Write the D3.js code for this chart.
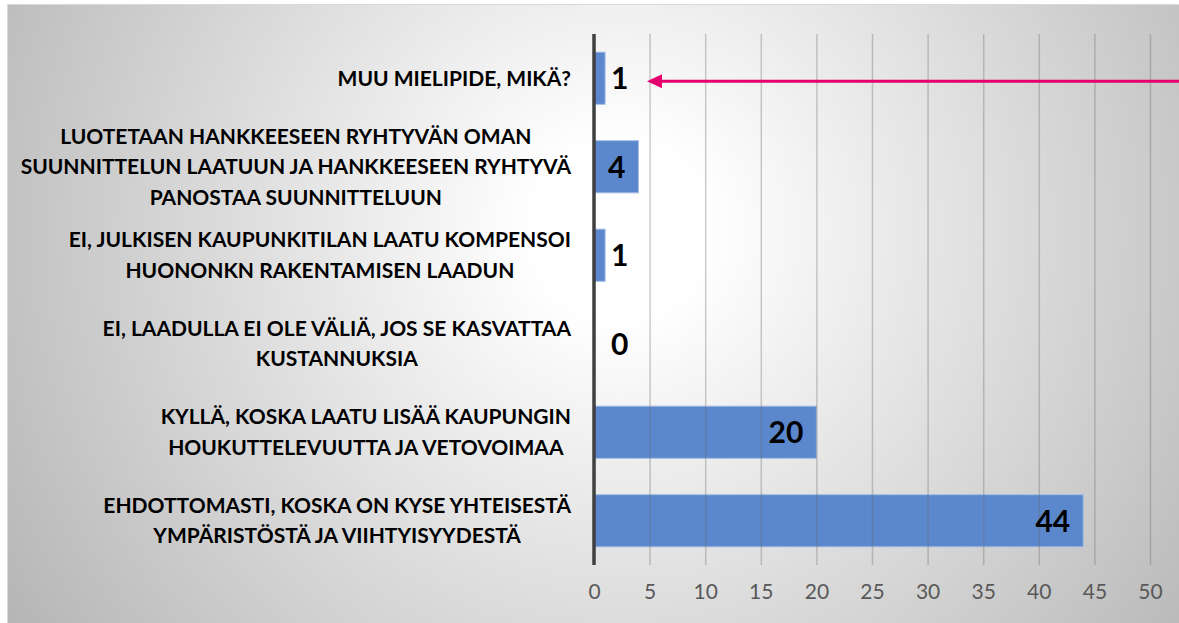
<!DOCTYPE html>
<html>
<head>
<meta charset="utf-8">
<script src="https://cdn.jsdelivr.net/npm/d3@7"></script>
<style>
  body { margin: 0; background: #fff; }
  svg { display: block; }
</style>
</head>
<body>
<div id="chart"></div>
<script>
// answers, top to bottom as shown
const categories = [
    ['MUU MIELIPIDE, MIKÄ?'],
    ['LUOTETAAN HANKKEESEEN RYHTYVÄN OMAN', 'SUUNNITTELUN LAATUUN JA HANKKEESEEN RYHTYVÄ', 'PANOSTAA SUUNNITTELUUN'],
    ['EI, JULKISEN KAUPUNKITILAN LAATU KOMPENSOI', 'HUONONKN RAKENTAMISEN LAADUN'],
    ['EI, LAADULLA EI OLE VÄLIÄ, JOS SE KASVATTAA', 'KUSTANNUKSIA'],
    ['KYLLÄ, KOSKA LAATU LISÄÄ KAUPUNGIN', 'HOUKUTTELEVUUTTA JA VETOVOIMAA'],
    ['EHDOTTOMASTI, KOSKA ON KYSE YHTEISESTÄ', 'YMPÄRISTÖSTÄ JA VIIHTYISYYDESTÄ']
];
const values = [1, 4, 1, 0, 20, 44];
const tickValues = [0, 5, 10, 15, 20, 25, 30, 35, 40, 45, 50];
const highlighted = 0; // the arrow points at this answer

const W = 1179, H = 623;
const PLOT = { LEFT: 594, RIGHT: 1150, TOP: 34, BOTTOM: 565 };
const FONT = "Lato, 'Open Sans', sans-serif";

const svg = d3.select('#chart')
    .append('svg')
    .attr('width', W)
    .attr('height', H);

// soft radial background like the office chart area
const grad = svg.append('defs').append('radialGradient')
    .attr('id', 'bg')
    .attr('gradientUnits', 'userSpaceOnUse')
    .attr('cx', 620).attr('cy', 230).attr('r', 720);
grad.append('stop').attr('offset', 0).attr('stop-color', '#ffffff');
grad.append('stop').attr('offset', 0.12).attr('stop-color', '#ffffff');
grad.append('stop').attr('offset', 1).attr('stop-color', '#b6b6b6');

svg.append('rect').attr('width', W).attr('height', H).attr('fill', '#fff');
svg.append('rect')
    .attr('x', 7.5).attr('y', 4.5)
    .attr('width', W - 7).attr('height', H - 4)
    .attr('fill', 'url(#bg)')
    .attr('stroke', '#d9d9d9');

const x = d3.scaleLinear()
    .domain([0, 50])
    .range([PLOT.LEFT, PLOT.RIGHT]);

const y = d3.scaleBand()
    .domain(d3.range(categories.length))
    .range([PLOT.TOP, PLOT.BOTTOM])
    .paddingInner(0.41)
    .paddingOuter(0.205);

// bars
svg.selectAll('rect.bar')
    .data(values)
    .enter()
    .append('rect')
    .attr('class', 'bar')
    .attr('x', x(0))
    .attr('y', (d, i) => y(i))
    .attr('width', d => x(d) - x(0))
    .attr('height', y.bandwidth())
    .attr('fill', '#5b87cd')
    .attr('stroke', '#a9c0e6')
    .attr('stroke-width', 1);

// vertical gridlines, drawn over the bars
const xAxis = d3.axisBottom(x)
    .tickValues(tickValues)
    .tickSize(-(PLOT.BOTTOM - PLOT.TOP))
    .tickPadding(19)
    .tickFormat(d3.format('d'));

const xAxisGroup = svg.append('g')
    .attr('transform', `translate(0, ${PLOT.BOTTOM})`)
    .call(xAxis);
xAxisGroup.select('.domain').remove();
xAxisGroup.selectAll('line')
    .attr('stroke', 'rgba(110,110,110,0.35)')
    .attr('stroke-width', 1.5);
xAxisGroup.selectAll('text')
    .attr('fill', '#595959')
    .style('font-family', FONT)
    .style('font-size', '21px');

// category axis line
svg.append('line')
    .attr('x1', x(0)).attr('x2', x(0))
    .attr('y1', PLOT.TOP).attr('y2', PLOT.BOTTOM)
    .attr('stroke', '#404040')
    .attr('stroke-width', 3.5);

// category labels: centred lines, block flush against the axis
const LINE = 30.5;
const LABEL_SIZE = 21;
const labelGroups = svg.selectAll('g.cat')
    .data(categories)
    .enter()
    .append('g')
    .attr('class', 'cat');

labelGroups.each(function (lines, i) {
    const g = d3.select(this);
    const texts = g.selectAll('text')
        .data(lines)
        .enter()
        .append('text')
        .attr('text-anchor', 'middle')
        .attr('dy', '0.35em')
        .attr('y', (d, j) => y(i) + y.bandwidth() / 2 + (j - (lines.length - 1) / 2) * LINE)
        .attr('fill', '#000')
        .style('font-family', FONT)
        .style('font-weight', 'bold')
        .style('font-size', LABEL_SIZE + 'px')
        .text(d => d);
    let blockW = 0;
    texts.each(function () { blockW = Math.max(blockW, this.getComputedTextLength()); });
    texts.attr('x', 571 - blockW / 2);
});

// value labels: inside the end of the bar when it fits
svg.selectAll('text.value')
    .data(values)
    .enter()
    .append('text')
    .attr('class', 'value')
    .attr('y', (d, i) => y(i) + y.bandwidth() / 2)
    .attr('dy', '0.36em')
    .attr('x', d => (x(d) - x(0) > 40) ? x(d) - 13 : x(Math.max(d, 1)) + 6)
    .attr('text-anchor', d => (x(d) - x(0) > 40) ? 'end' : 'start')
    .attr('fill', '#000')
    .style('font-family', FONT)
    .style('font-weight', 'bold')
    .style('font-size', '30px')
    .text(d => d);

// magenta pointer arrow
const ay = y(highlighted) + y.bandwidth() / 2 + 3;
const tipX = 647;
svg.append('line')
    .attr('x1', W).attr('x2', tipX + 12)
    .attr('y1', ay).attr('y2', ay)
    .attr('stroke', '#e4006e')
    .attr('stroke-width', 3);
svg.append('path')
    .attr('d', `M${tipX},${ay} L${tipX + 15},${ay - 7} L${tipX + 15},${ay + 7} Z`)
    .attr('fill', '#e4006e');
</script>
</body>
</html>
